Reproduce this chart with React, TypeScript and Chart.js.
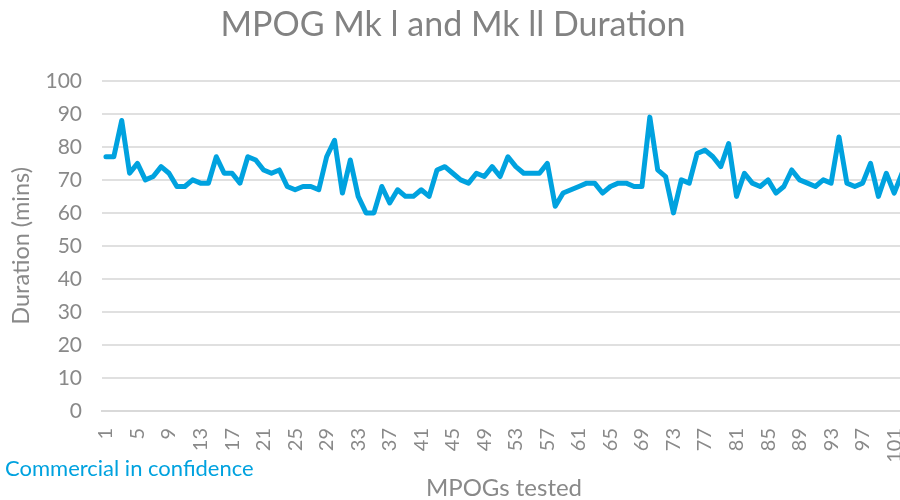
import React, { useEffect, useRef } from "react";
import { Chart, registerables } from "chart.js";

Chart.register(...registerables);

const chartTitle = "MPOG Mk l and Mk ll Duration";
const yAxisTitle = "Duration (mins)";
const xAxisTitle = "MPOGs tested";
const footnote = "Commercial in confidence";

const mpogNumbers: string[] = Array.from({ length: 102 }, (_, i) => String(i + 1));

const durations: number[] = [
  77, 77, 88, 72, 75, 70, 71, 74, 72, 68, 68, 70, 69, 69, 77, 72, 72, 69, 77, 76, 73, 72, 73, 68, 67,
  68, 68, 67, 77, 82, 66, 76, 65, 60, 60, 68, 63, 67, 65, 65, 67, 65, 73, 74, 72, 70, 69, 72, 71, 74,
  71, 77, 74, 72, 72, 72, 75, 62, 66, 67, 68, 69, 69, 66, 68, 69, 69, 68, 68, 89, 73, 71, 60, 70, 69,
  78, 79, 77, 74, 81, 65, 72, 69, 68, 70, 66, 68, 73, 70, 69, 68, 70, 69, 83, 69, 68, 69, 75, 65, 72, 66, 72,
];

const yTicks = { min: 0, max: 100, step: 10 };
const xLabelEvery = 4;

const FONT = "Lato, 'Open Sans', sans-serif";
const GREY = "#898989";
const BLUE = "#00A2DF";

export default function App() {
  const canvasRef = useRef<HTMLCanvasElement | null>(null);

  useEffect(() => {
    const ctx = canvasRef.current;
    if (!ctx) return;
    const chart = new Chart(ctx, {
      type: "line",
      data: {
        labels: mpogNumbers,
        datasets: [
          {
            label: yAxisTitle,
            data: durations,
            borderColor: BLUE,
            backgroundColor: BLUE,
            borderWidth: 5,
            pointRadius: 0,
            tension: 0,
            borderJoinStyle: "round",
            borderCapStyle: "round",
          },
        ],
      },
      options: {
        responsive: false,
        animation: false,
        devicePixelRatio: 1,
        layout: { padding: { top: 0, right: 0, bottom: 0, left: 0 } },
        plugins: {
          legend: { display: false },
          tooltip: { enabled: false },
          title: {
            display: true,
            text: chartTitle,
            color: "#828282",
            font: { family: FONT, size: 34, weight: "normal", lineHeight: 1.2 },
            padding: { top: 5, bottom: 35 },
          },
        },
        scales: {
          x: {
            type: "category",
            offset: true,
            grid: { display: false, drawTicks: false },
            border: { display: true, color: "#d9d9d9", width: 2 },
            ticks: {
              autoSkip: false,
              minRotation: 90,
              maxRotation: 90,
              padding: 17,
              color: GREY,
              font: { family: FONT, size: 20 },
              callback: function (this: any, value: any, index: number) {
                return index % xLabelEvery === 0 ? this.getLabelForValue(value) : "";
              },
            },
            title: {
              display: true,
              text: xAxisTitle,
              color: GREY,
              font: { family: FONT, size: 24, lineHeight: 1 },
              padding: { top: 0, bottom: 0 },
            },
            afterFit: (scale: any) => {
              scale.height = 89;
              scale.paddingRight = 0;
              scale.paddingLeft = 0;
            },
          },
          y: {
            min: yTicks.min,
            max: yTicks.max,
            grid: { color: "#e0e0e0", lineWidth: 2, drawTicks: false },
            border: { display: false },
            ticks: {
              stepSize: yTicks.step,
              padding: 20,
              color: GREY,
              font: { family: FONT, size: 21 },
            },
            title: {
              display: true,
              text: yAxisTitle,
              color: GREY,
              font: { family: FONT, size: 23.5, lineHeight: 1 },
              padding: { top: 10, bottom: 0 },
            },
            afterFit: (scale: any) => {
              scale.width = 102;
            },
          },
        },
      },
    });
    return () => chart.destroy();
  }, []);

  return (
    <div
      style={{
        position: "fixed",
        left: 0,
        top: 0,
        width: 900,
        height: 500,
        overflow: "hidden",
        background: "#fff",
      }}
    >
      <canvas ref={canvasRef} width={906} height={500} style={{ display: "block" }} />
      <div
        style={{
          position: "absolute",
          left: 5,
          top: 455,
          color: BLUE,
          fontFamily: FONT,
          fontSize: 22,
          lineHeight: "26px",
          whiteSpace: "nowrap",
        }}
      >
        {footnote}
      </div>
    </div>
  );
}
